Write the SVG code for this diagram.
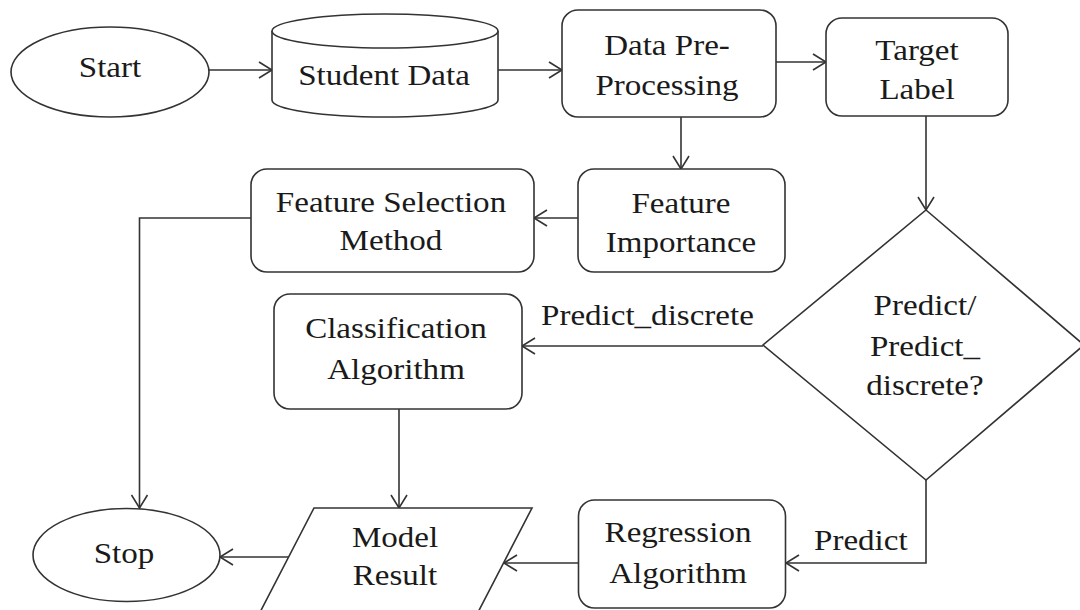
<svg xmlns="http://www.w3.org/2000/svg" width="1080" height="610" viewBox="0 0 1080 610">
<defs>
<style>
.s{fill:#fff;stroke:#333;stroke-width:1.6}
.c{fill:none;stroke:#333;stroke-width:1.6}
.t{font-family:"Liberation Serif","Times New Roman",serif;font-size:29px;fill:#1a1a1a;text-anchor:middle}
.l{font-family:"Liberation Serif","Times New Roman",serif;font-size:29px;fill:#1a1a1a;text-anchor:start}
</style>
<marker id="a" markerUnits="userSpaceOnUse" markerWidth="16" markerHeight="18" viewBox="0 0 16 18" refX="14" refY="9" orient="auto">
<path d="M1,1 L14,9 L1,17" fill="none" stroke="#333" stroke-width="1.6"/>
</marker>
</defs>
<rect width="1080" height="610" fill="#fff"/>

<g id="connectors">
<line class="c" x1="209" y1="70" x2="272" y2="70" marker-end="url(#a)"/>
<line class="c" x1="498" y1="70" x2="562" y2="70" marker-end="url(#a)"/>
<line class="c" x1="776" y1="62" x2="826" y2="62" marker-end="url(#a)"/>
<line class="c" x1="681" y1="117" x2="681" y2="169" marker-end="url(#a)"/>
<line class="c" x1="578" y1="218" x2="534" y2="218" marker-end="url(#a)"/>
<path class="c" d="M251,218 H139.5 V508" marker-end="url(#a)"/>
<line class="c" x1="926" y1="116" x2="926" y2="210" marker-end="url(#a)"/>
<line class="c" x1="763" y1="346" x2="522" y2="346" marker-end="url(#a)"/>
<line class="c" x1="399" y1="409" x2="399" y2="508" marker-end="url(#a)"/>
<path class="c" d="M926,480 V563 H786" marker-end="url(#a)"/>
<line class="c" x1="578" y1="563" x2="504" y2="563" marker-end="url(#a)"/>
<line class="c" x1="288" y1="557" x2="220" y2="557" marker-end="url(#a)"/>
<text class="l" transform="translate(541 325) scale(1.14 1)">Predict_discrete</text>
<text class="l" transform="translate(814 550) scale(1.14 1)">Predict</text>
</g>

<g id="start">
<ellipse class="s" cx="110" cy="72" rx="99" ry="45"/>
<text class="t" transform="translate(110 77) scale(1.14 1)">Start</text>
</g>

<g id="student-data">
<path class="s" d="M272,31 V100 A113,17 0 0,0 498,100 V31"/>
<ellipse class="s" cx="385" cy="31" rx="113" ry="17"/>
<text class="t" transform="translate(384 85) scale(1.14 1)">Student Data</text>
</g>

<g id="data-preprocessing">
<rect class="s" x="562" y="10" width="214" height="107" rx="16"/>
<text class="t" transform="translate(667 55) scale(1.14 1)">Data Pre-</text>
<text class="t" transform="translate(667 95) scale(1.14 1)">Processing</text>
</g>

<g id="target-label">
<rect class="s" x="826" y="18" width="182" height="98" rx="16"/>
<text class="t" transform="translate(917 60) scale(1.14 1)">Target</text>
<text class="t" transform="translate(917 99) scale(1.14 1)">Label</text>
</g>

<g id="feature-importance">
<rect class="s" x="578" y="169" width="207" height="103" rx="16"/>
<text class="t" transform="translate(681 213) scale(1.14 1)">Feature</text>
<text class="t" transform="translate(681 252) scale(1.14 1)">Importance</text>
</g>

<g id="feature-selection">
<rect class="s" x="251" y="169" width="283" height="103" rx="16"/>
<text class="t" transform="translate(391 212) scale(1.14 1)">Feature Selection</text>
<text class="t" transform="translate(391 250) scale(1.14 1)">Method</text>
</g>

<g id="decision">
<polygon class="s" points="926,210 1084,345 926,480 763,345"/>
<text class="t" transform="translate(925 315) scale(1.14 1)">Predict/</text>
<text class="t" transform="translate(925 356) scale(1.14 1)">Predict_</text>
<text class="t" transform="translate(925 395) scale(1.14 1)">discrete?</text>
</g>

<g id="classification">
<rect class="s" x="274" y="294" width="248" height="115" rx="16"/>
<text class="t" transform="translate(396 338) scale(1.14 1)">Classification</text>
<text class="t" transform="translate(396 379) scale(1.14 1)">Algorithm</text>
</g>

<g id="model-result">
<polygon class="s" points="314,508 532,508 474,620 256,620"/>
<text class="t" transform="translate(395 547) scale(1.14 1)">Model</text>
<text class="t" transform="translate(395 585) scale(1.14 1)">Result</text>
</g>

<g id="regression">
<rect class="s" x="578.5" y="500" width="207" height="108" rx="16"/>
<text class="t" transform="translate(678 542) scale(1.14 1)">Regression</text>
<text class="t" transform="translate(678 583) scale(1.14 1)">Algorithm</text>
</g>

<g id="stop">
<ellipse class="s" cx="126.5" cy="555" rx="93.5" ry="46.5"/>
<text class="t" transform="translate(124 563) scale(1.14 1)">Stop</text>
</g>
</svg>
